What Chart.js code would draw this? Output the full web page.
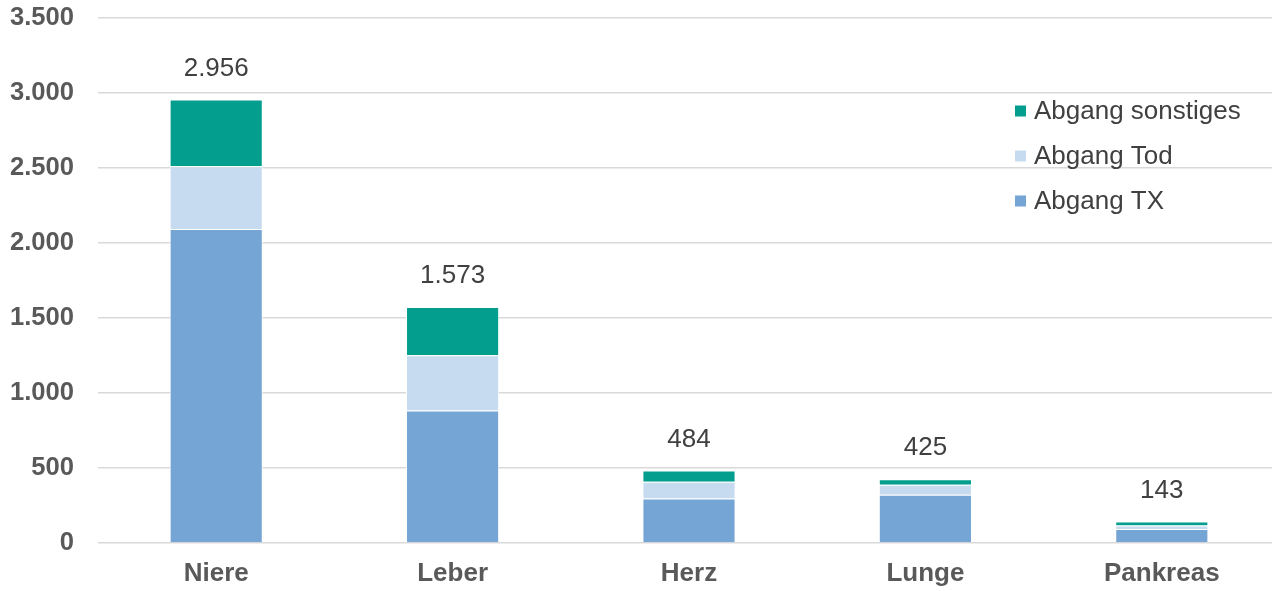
<!DOCTYPE html>
<html lang="de">
<head>
<meta charset="utf-8">
<title>Abgänge von der Warteliste</title>
<script src="https://cdn.jsdelivr.net/npm/chart.js@4.4.1/dist/chart.umd.min.js"></script>
<style>
	html, body { margin: 0; padding: 0; background: #fff; overflow: hidden; }
	#wrap { position: relative; width: 1282px; height: 591px; }
</style>
</head>
<body>
<div id="wrap"><canvas id="chartAbgang"></canvas></div>
<script>
// Daten
const organe = ["Niere", "Leber", "Herz", "Lunge", "Pankreas"];
const abgangTX = [2093, 884, 296, 322, 94];
const abgangTod = [418, 367, 113, 67, 22];
const abgangSonstiges = [445, 322, 75, 36, 27];
const yTicks = [0, 500, 1000, 1500, 2000, 2500, 3000, 3500];

const schrift = "'Liberation Sans', Arial, sans-serif";

// Tausenderpunkt wie im Original (3.500)
function formatDE(n) {
	return String(Math.round(n)).replace(/\B(?=(\d{3})+(?!\d))/g, ".");
}

// Summen über die Balken schreiben
const summenPlugin = {
	id: "summen",
	afterDatasetsDraw(chart) {
		const ctx = chart.ctx;
		const y = chart.scales.y;
		const x = chart.scales.x;
		ctx.save();
		ctx.font = "26px " + schrift;
		ctx.fillStyle = "#404040";
		ctx.textAlign = "center";
		ctx.textBaseline = "middle";
		organe.forEach((o, i) => {
			const total = abgangTX[i] + abgangTod[i] + abgangSonstiges[i];
			ctx.fillText(formatDE(total), x.getPixelForValue(i), y.getPixelForValue(total) - 31);
		});
		ctx.restore();
	},
};

// Legende innerhalb der Zeichenfläche (rechts oben), umgekehrte Reihenfolge
const legendePlugin = {
	id: "legendeInnen",
	afterDraw(chart) {
		const ctx = chart.ctx;
		const sets = chart.data.datasets.slice().reverse();
		ctx.save();
		ctx.font = "26px " + schrift;
		ctx.textBaseline = "middle";
		sets.forEach((ds, i) => {
			const cy = 111 + i * 45;
			ctx.fillStyle = ds.backgroundColor;
			ctx.fillRect(1015, cy - 5.5, 11, 11);
			ctx.fillStyle = "#404040";
			ctx.fillText(ds.label, 1034, cy + 1);
		});
		ctx.restore();
	},
};

new Chart(document.getElementById("chartAbgang"), {
	type: "bar",
	data: {
		labels: organe,
		datasets: [
			{ label: "Abgang TX", data: abgangTX, backgroundColor: "#75A5D4" },
			{ label: "Abgang Tod", data: abgangTod, backgroundColor: "#C6DBF0" },
			{ label: "Abgang sonstiges", data: abgangSonstiges, backgroundColor: "#049E8E" },
		].map((d) => ({
			...d,
			borderColor: "#ffffff",
			borderWidth: 1,
			categoryPercentage: 1,
			barPercentage: 0.394,
		})),
	},
	options: {
		responsive: true,
		maintainAspectRatio: false,
		animation: false,
		layout: { padding: { top: 18, left: 8, right: 2, bottom: 0 } },
		plugins: {
			legend: { display: false },
			tooltip: { enabled: false },
		},
		scales: {
			x: {
				stacked: true,
				grid: { display: false, drawTicks: false },
				border: { display: false },
				ticks: {
					padding: 15.5,
					color: "#595959",
					font: { family: schrift, size: 26, weight: "bold" },
				},
				afterFit(axis) {
					axis.height = 48;
					axis.paddingLeft = 0;
					axis.paddingRight = 0;
				},
			},
			y: {
				stacked: true,
				min: 0,
				max: 3500,
				afterBuildTicks(axis) {
					axis.ticks = yTicks.map((v) => ({ value: v }));
				},
				grid: { color: "#D9D9D9", lineWidth: 1.6, drawTicks: false },
				border: { display: false },
				ticks: {
					padding: 24,
					color: "#595959",
					font: { family: schrift, size: 25.6, weight: "bold" },
					callback: (v) => formatDE(v),
				},
				afterFit(axis) {
					axis.width = 90;
					axis.paddingTop = 0;
					axis.paddingBottom = 0;
				},
			},
		},
	},
	plugins: [summenPlugin, legendePlugin],
});
</script>
</body>
</html>
